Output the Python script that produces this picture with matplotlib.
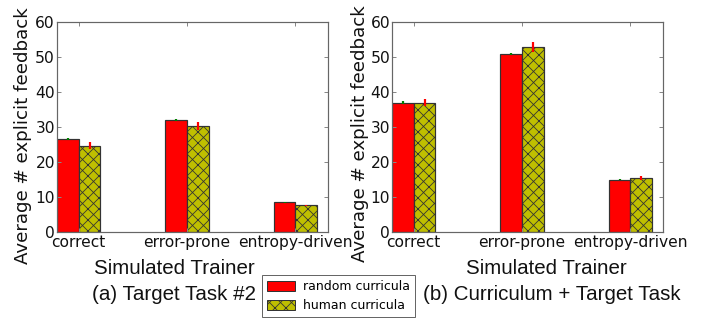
import numpy as np
import matplotlib
matplotlib.use("Agg")
import matplotlib.pyplot as plt
from matplotlib.patches import Patch

# ---- data -------------------------------------------------------------
trainers = ["correct", "error-prone", "entropy-driven"]

# (a) Target Task #2
a_random = [26.5, 32.0, 8.5]
a_random_err = [0.3, 0.3, 0.1]
a_human = [24.7, 30.3, 7.6]
a_human_err = [0.9, 1.1, 0.2]

# (b) Curriculum + Target Task
b_random = [37.0, 50.9, 15.0]
b_random_err = [0.3, 0.3, 0.1]
b_human = [36.9, 52.8, 15.4]
b_human_err = [1.0, 1.4, 0.5]

series_labels = ["random curricula", "human curricula"]
captions = ["(a) Target Task #2", "(b) Curriculum + Target Task"]
ylabel_text = "Average # explicit feedback"
xlabel_text = "Simulated Trainer"

# ---- figure geometry (pixel based) -----------------------------------
W, H, DPI = 712, 322, 66
PT = 72.0 / DPI  # points per pixel

fig = plt.figure(figsize=(W / DPI, H / DPI), dpi=DPI)
fig.patch.set_facecolor("white")

def fx(px):
    return px / W

def fy(py):
    return 1 - py / H

plt.rcParams["hatch.linewidth"] = 0.8 * PT

spine_col = "#666666"
bar_edge = "#333333"
width = 0.2

def draw_panel(left_px, rnd, rnd_err, hum, hum_err):
    ax = fig.add_axes([fx(left_px), fy(232), fx(271), 210 / H])
    x = np.arange(len(trainers))
    ax.bar(x, rnd, width, align="edge", color="#ff0000",
           edgecolor=bar_edge, linewidth=1.2 * PT)
    ax.bar(x + width, hum, width, align="edge", color="#bfbf00",
           edgecolor=bar_edge, linewidth=1.2 * PT, hatch="xx")
    ax.errorbar(x + width / 2, rnd, yerr=rnd_err, fmt="none",
                ecolor="#008000", elinewidth=2.2 * PT, capsize=0)
    ax.errorbar(x + 1.5 * width, hum, yerr=hum_err, fmt="none",
                ecolor="#ff0000", elinewidth=2.2 * PT, capsize=0)
    ax.set_xlim(0, 2.5)
    ax.set_ylim(0, 60)
    ax.set_yticks(np.arange(0, 61, 10))
    ax.set_xticks(x + width)
    ax.set_xticklabels(trainers)
    for s in ax.spines.values():
        s.set_color(spine_col)
        s.set_linewidth(1.2 * PT)
    ax.tick_params(direction="in", top=True, right=True, length=4 * PT,
                   width=1.0 * PT, color="#888888",
                   labelsize=15.5 * PT, labelcolor="#111111")
    ax.tick_params(axis="x", pad=3 * PT)
    ax.tick_params(axis="y", pad=2 * PT)
    return ax

ax_a = draw_panel(57, a_random, a_random_err, a_human, a_human_err)
ax_b = draw_panel(392, b_random, b_random_err, b_human, b_human_err)

# y labels (rotated, anchored by their lower end)
for xc, yb in [(23, 264), (360, 262)]:
    fig.text(fx(xc), fy(yb), ylabel_text, rotation=90, ha="center",
             va="bottom", fontsize=18.3 * PT, color="#111111")

# x labels and captions
cap_font = dict(family="Liberation Sans", color="#111111")
fig.text(fx(174), fy(274), xlabel_text, ha="center", va="baseline",
         fontsize=20.5 * PT, **cap_font)
fig.text(fx(546), fy(274), xlabel_text, ha="center", va="baseline",
         fontsize=20.5 * PT, **cap_font)
fig.text(fx(174), fy(300), captions[0], ha="center", va="baseline",
         fontsize=20.5 * PT, **cap_font)
fig.text(fx(552), fy(300), captions[1], ha="center", va="baseline",
         fontsize=20.5 * PT, **cap_font)

# legend
handles = [
    Patch(facecolor="#ff0000", edgecolor=bar_edge, linewidth=1.0 * PT),
    Patch(facecolor="#bfbf00", edgecolor=bar_edge, linewidth=1.0 * PT,
          hatch="xx"),
]
leg = fig.legend(handles, series_labels, loc="upper left",
                 bbox_to_anchor=(fx(262), fy(275)),
                 fontsize=12.5 * PT, frameon=True, fancybox=False,
                 edgecolor="#666666", framealpha=1, borderpad=0.4,
                 handlelength=2.2, handleheight=0.9, handletextpad=0.7,
                 labelspacing=0.5, borderaxespad=0)
leg.get_frame().set_linewidth(1.0 * PT)

fig.savefig("out.png", dpi=DPI, facecolor="white")
